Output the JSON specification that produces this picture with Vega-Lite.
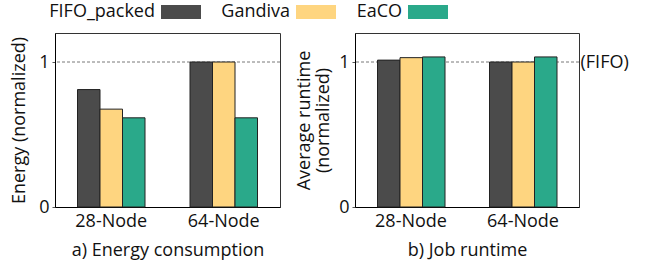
{
  "$schema": "https://vega.github.io/schema/vega-lite/v6.json",
  "padding": {"left": 10, "top": -8, "right": 5, "bottom": 5},
  "config": {
    "font": "Open Sans",
    "view": {"stroke": "#333", "strokeWidth": 1},
    "axis": {
      "labelFont": "Open Sans", "titleFont": "Open Sans",
      "labelFontSize": 18, "titleFontSize": 18, "titleFontWeight": "normal",
      "labelColor": "#111", "titleColor": "#111",
      "domainColor": "#000", "tickColor": "#555", "grid": false
    },
    "legend": {
      "labelFont": "Open Sans", "labelFontSize": 18, "labelColor": "#111", "padding": 0
    }
  },
  "datasets": {
    "energy": [
      {"cluster": "28-Node", "policy": "FIFO_packed", "value": 0.81},
      {"cluster": "28-Node", "policy": "Gandiva", "value": 0.675},
      {"cluster": "28-Node", "policy": "EaCO", "value": 0.615},
      {"cluster": "64-Node", "policy": "FIFO_packed", "value": 1.0},
      {"cluster": "64-Node", "policy": "Gandiva", "value": 1.0},
      {"cluster": "64-Node", "policy": "EaCO", "value": 0.615}
    ],
    "runtime": [
      {"cluster": "28-Node", "policy": "FIFO_packed", "value": 1.013},
      {"cluster": "28-Node", "policy": "Gandiva", "value": 1.03},
      {"cluster": "28-Node", "policy": "EaCO", "value": 1.035},
      {"cluster": "64-Node", "policy": "FIFO_packed", "value": 1.0},
      {"cluster": "64-Node", "policy": "Gandiva", "value": 1.0},
      {"cluster": "64-Node", "policy": "EaCO", "value": 1.035}
    ],
    "ref": [{"v": 1}]
  },
  "hconcat": [
    {
      "width": 225, "height": 174,
      "layer": [
        {
          "data": {"name": "ref"},
          "mark": {"type": "rule", "stroke": "#555", "strokeWidth": 0.8, "strokeDash": [3, 2]},
          "encoding": {"y": {"field": "v", "type": "quantitative"}}
        },
        {
          "data": {"name": "energy"},
          "mark": {"type": "bar", "stroke": "#222", "strokeWidth": 1},
          "encoding": {
            "x": {"field": "cluster", "type": "nominal", "scale": {"paddingInner": 0, "paddingOuter": 0},
                  "axis": {"labelAngle": 0, "ticks": false, "labelPadding": 5, "title": "a) Energy consumption", "titlePadding": 11}},
            "xOffset": {"field": "policy", "sort": ["FIFO_packed", "Gandiva", "EaCO"], "scale": {"paddingOuter": 2.25, "paddingInner": 0}},
            "y": {"field": "value", "type": "quantitative", "scale": {"domain": [0, 1.2]},
                  "axis": {"values": [0, 1], "format": "d", "tickSize": 3, "labelPadding": 3, "title": "Energy (normalized)", "titlePadding": 10}},
            "color": {"field": "policy", "type": "nominal",
                      "scale": {"domain": ["FIFO_packed", "Gandiva", "EaCO"], "range": ["#4b4b4b", "#fed580", "#2aa98a"]},
                      "legend": {"orient": "none", "legendX": 106, "legendY": -41, "title": null, "direction": "horizontal",
                                 "symbolType": "M-1,-0.35H1V0.35H-1Z", "symbolSize": 1600, "symbolStrokeWidth": 0,
                                 "labelAlign": "right", "labelOffset": -46, "columnPadding": 20}}
          }
        }
      ]
    },
    {
      "width": 224, "height": 174,
      "resolve": {"axis": {"y": "independent"}},
      "layer": [
        {
          "data": {"name": "ref"},
          "mark": {"type": "rule", "stroke": "#555", "strokeWidth": 0.8, "strokeDash": [3, 2]},
          "encoding": {"y": {"field": "v", "type": "quantitative", "scale": {"domain": [0, 1.2]},
                             "axis": {"orient": "right", "values": [1], "labelExpr": "'(FIFO)'", "ticks": false, "domain": false, "labelPadding": 1, "title": null}}}
        },
        {
          "data": {"name": "runtime"},
          "mark": {"type": "bar", "stroke": "#222", "strokeWidth": 1},
          "encoding": {
            "x": {"field": "cluster", "type": "nominal", "scale": {"paddingInner": 0, "paddingOuter": 0},
                  "axis": {"labelAngle": 0, "ticks": false, "labelPadding": 5, "title": "b) Job runtime", "titlePadding": 11}},
            "xOffset": {"field": "policy", "sort": ["FIFO_packed", "Gandiva", "EaCO"], "scale": {"paddingOuter": 2.25, "paddingInner": 0}},
            "y": {"field": "value", "type": "quantitative", "scale": {"domain": [0, 1.2]},
                  "axis": {"orient": "left", "values": [0, 1], "format": "d", "tickSize": 3, "labelPadding": 3, "title": ["Average runtime", "(normalized)"], "titleLineHeight": 19, "titlePadding": 6}},
            "color": {"field": "policy", "type": "nominal"}
          }
        }
      ]
    }
  ],
  "spacing": 14
}
